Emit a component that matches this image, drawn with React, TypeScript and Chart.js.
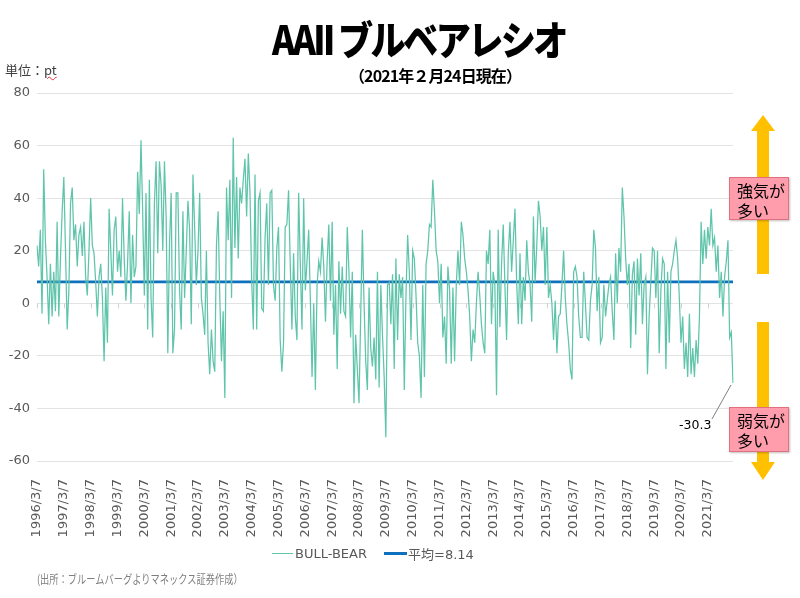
import React, { useEffect, useRef } from 'react';
import { Chart, registerables } from 'chart.js';

Chart.register(...registerables);

// ---- data (approx. weekly AAII bull-bear spread, sampled 16 per year) ----
const PER_YEAR = 16;

const bb1996_1999 = [
  22, 14, 28, -4, 51, 24, 10, -8, 15, -5, 12, -3, 31, -5, 17, 35,
  48, 20, -10, 5, 38, 44, 24, 30, 14, 26, 29, 18, 31, 10, 3, 20,
  40, 22, 19, 8, -5, 10, 15, 2, -22, 6, -15, 36, 20, 3, 28, 33,
  12, 20, 10, 40, 17, 1, 15, 35, 0, 26, 10, 14, 50, 34, 62, 35,
];
const bb2000_2003 = [
  3, 42, -10, 47, 2, -13, 38, 54, 19, 54, 45, 20, 54, 33, -19, 22,
  42, -19, -10, 42, 42, 5, -10, 35, 2, 20, 39, 28, -8, 49, 29, 7,
  20, 42, 2, -4, -12, 20, -15, -27, -10, -22, -26, 22, 35, 2, -22, -3,
  -36, 44, 24, 47, 2, 63, 21, 48, 17, 44, 38, 47, 55, 33, 57, 42,
];
const bb2004_2007 = [
  9, -10, 49, -10, 39, 42, -2, -3, 25, 38, 7, 42, 43, 7, 1, 21,
  29, -14, -26, -15, 29, 30, 43, 15, -10, 19, -5, -14, 42, 15, -10, 40,
  5, 16, 28, 1, -28, 0, -33, 7, 16, 12, 25, 14, -7, 16, 30, 1,
  31, -12, 7, -25, 16, -4, 14, -3, -5, 29, 12, -13, 12, -38, -12, -25,
];
const bb2008_2011 = [
  -38, -5, 28, 0, -22, -33, 6, -17, -24, -13, -29, 12, -32, 7, -12, -28,
  -51, 7, 8, -8, 11, -25, 17, -14, 11, 2, 10, -33, 3, 26, 12, -14,
  20, 17, 3, -15, -20, -36, 7, -28, 15, 20, 30, 29, 47, 35, 20, 16,
  0, 15, -13, -5, -23, 14, 5, -23, 6, -22, 7, 20, 7, 31, 26, 17,
];
const bb2012_2015 = [
  12, 5, -5, -22, -10, -15, 0, 12, 3, -8, -15, -19, 20, 15, 28, -8,
  12, 7, -35, 28, -9, 15, 30, 7, -14, 19, 31, 12, 24, 36, 8, -8,
  19, -8, 10, 1, 24, 12, 7, -7, 33, 8, 22, 39, 33, 20, 29, 7,
  29, 2, 7, 0, -14, 1, -19, -5, -4, 7, 20, 2, -8, -15, -25, -29,
];
const bb2016_2019 = [
  12, 14, 10, -5, -13, -13, 12, 0, -13, -14, 1, 7, 28, 21, -3, 10,
  -15, -13, 7, -5, 1, 7, 10, -3, -14, 19, 0, 21, 12, 44, 33, 17,
  7, 15, -17, 11, 16, -12, 17, 3, 19, -8, 7, 10, -27, -5, 8, 21,
  20, 2, 20, -19, 5, 17, 15, -25, 12, -15, 12, 15, 20, 24, 17, 2,
];
const bb2020_2021 = [
  -15, -5, -25, -15, -28, -4, -27, -17, -28, -14, -23, -5, 31, 15, 28, 17,
  29, 22, 36, 22, 25, 12, 22, 2, 12, -5, 10, 16, 24, -13, -11, -30.3,
];

const yearLabels = [
  '1996/3/7', '1997/3/7', '1998/3/7', '1999/3/7', '2000/3/7', '2001/3/7',
  '2002/3/7', '2003/3/7', '2004/3/7', '2005/3/7', '2006/3/7', '2007/3/7',
  '2008/3/7', '2009/3/7', '2010/3/7', '2011/3/7', '2012/3/7', '2013/3/7',
  '2014/3/7', '2015/3/7', '2016/3/7', '2017/3/7', '2018/3/7', '2019/3/7',
  '2020/3/7', '2021/3/7',
];

const avgValue = 8.14;
const yTicks = [80, 60, 40, 20, 0, -20, -40, -60];

const TEAL = '#5ec4aa';
const BLUE = '#0f70bd';
const GRAY = '#595959';

export default function App() {
  const ref = useRef<HTMLCanvasElement>(null);

  useEffect(() => {
    const bullBear = [
      ...bb1996_1999, ...bb2000_2003, ...bb2004_2007, ...bb2008_2011,
      ...bb2012_2015, ...bb2016_2019, ...bb2020_2021,
    ];
    const labels = bullBear.map((_, i) =>
      i % PER_YEAR === 0 && yearLabels[i / PER_YEAR] ? yearLabels[i / PER_YEAR] : ''
    );
    const avgLine = bullBear.map(() => avgValue);

    const yearTicksPlugin = {
      id: 'yearTicks',
      beforeDatasetsDraw(chart: any) {
        const { ctx, scales } = chart;
        const y0 = scales.y.getPixelForValue(0);
        ctx.save();
        ctx.strokeStyle = '#d0d0d0';
        ctx.lineWidth = 1;
        ctx.beginPath();
        yearLabels.forEach((_, k) => {
          const px = Math.round(scales.x.getPixelForValue(k * PER_YEAR)) + 0.5;
          ctx.moveTo(px, y0);
          ctx.lineTo(px, y0 + 5);
        });
        ctx.stroke();
        ctx.restore();
      },
    };

    const chart = new Chart(ref.current as HTMLCanvasElement, {
      type: 'line',
      data: {
        labels,
        datasets: [
          {
            label: 'BULL-BEAR',
            data: bullBear,
            borderColor: TEAL,
            borderWidth: 1.25,
            pointRadius: 0,
            tension: 0,
          },
          {
            label: '平均=8.14',
            data: avgLine,
            borderColor: BLUE,
            borderWidth: 2.6,
            pointRadius: 0,
          },
        ],
      },
      options: {
        responsive: false,
        animation: false,
        events: [],
        layout: { padding: { top: 93, right: 67, bottom: 57, left: 0 } },
        plugins: {
          legend: { display: false },
          title: { display: false },
          tooltip: { enabled: false },
        },
        scales: {
          x: {
            type: 'category',
            grid: { display: false },
            border: { display: false },
            afterFit: (s: any) => {
              s.height = 80;
            },
            ticks: {
              autoSkip: false,
              maxRotation: 90,
              minRotation: 90,
              padding: 10,
              color: GRAY,
              font: { family: '"DejaVu Sans", Verdana, sans-serif', size: 13 },
            },
          },
          y: {
            min: -60,
            max: 80,
            afterFit: (s: any) => {
              s.width = 37;
            },
            afterBuildTicks: (s: any) => {
              s.ticks = yTicks.map((v) => ({ value: v }));
            },
            grid: { color: '#e3e3e3', lineWidth: 1, drawTicks: false },
            border: { display: false },
            ticks: {
              padding: 7,
              color: GRAY,
              font: { family: '"DejaVu Sans", Verdana, sans-serif', size: 13 },
            },
          },
        },
      },
      plugins: [yearTicksPlugin],
    } as any);
    return () => chart.destroy();
  }, []);

  const jp = '"Noto Sans CJK JP", "Noto Sans", sans-serif';

  return (
    <div style={{ position: 'absolute', left: 0, top: 0, width: 800, height: 598, background: '#fff', overflow: 'hidden' }}>
      <canvas ref={ref} width={800} height={598} style={{ position: 'absolute', left: 0, top: 0, width: 800, height: 598 }} />

      <div style={{ position: 'absolute', left: 0, top: 12, width: 838, textAlign: 'center', lineHeight: '52px' }}>
        <span style={{ display: 'inline-block', fontFamily: jp, fontWeight: 900, fontSize: 40, letterSpacing: -3, color: '#000', whiteSpace: 'nowrap', transform: 'scaleX(0.88)' }}>
          AAII ブルベアレシオ
        </span>
      </div>
      <div style={{ position: 'absolute', left: 349, top: 65, fontFamily: jp, fontWeight: 700, fontSize: 16, letterSpacing: -0.9, color: '#000', whiteSpace: 'nowrap', lineHeight: '20px' }}>
        （2021年２月24日現在）
      </div>
      <div style={{ position: 'absolute', left: 5, top: 60, fontFamily: jp, fontSize: 13, color: '#404040', whiteSpace: 'nowrap', lineHeight: '20px' }}>
        単位：<span style={{ textDecoration: 'underline wavy #e03030', textDecorationThickness: 1 }}>pt</span>
      </div>

      <svg width={800} height={598} style={{ position: 'absolute', left: 0, top: 0 }}>
        <polygon points="763,115 775,131 769,131 769,274 757,274 757,131 751,131" fill="#FFC000" />
        <polygon points="757,322 769,322 769,462 775,462 763,480 751,462 757,462" fill="#FFC000" />
        <line x1={712} y1={419} x2={731} y2={385} stroke="#7f7f7f" strokeWidth={1} />
      </svg>

      <div style={{ position: 'absolute', left: 729, top: 177, width: 60, height: 43, background: '#ff9dac', border: '1px solid #e0707e', boxShadow: '1px 1px 2px rgba(0,0,0,0.25)', fontFamily: jp, fontSize: 16, lineHeight: '20px', color: '#000', padding: '2px 0 0 7px', boxSizing: 'border-box', whiteSpace: 'nowrap' }}>
        強気が<br />多い
      </div>
      <div style={{ position: 'absolute', left: 729, top: 407, width: 60, height: 45, background: '#ff9dac', border: '1px solid #e0707e', boxShadow: '1px 1px 2px rgba(0,0,0,0.25)', fontFamily: jp, fontSize: 16, lineHeight: '20px', color: '#000', padding: '2px 0 0 7px', boxSizing: 'border-box', whiteSpace: 'nowrap' }}>
        弱気が<br />多い
      </div>
      <div style={{ position: 'absolute', left: 679, top: 416, fontFamily: '"DejaVu Sans", sans-serif', fontSize: 12.5, color: '#000', lineHeight: '18px' }}>
        -30.3
      </div>

      {/* legend */}
      <div style={{ position: 'absolute', left: 272, top: 544, height: 18, display: 'flex', alignItems: 'center', fontFamily: '"DejaVu Sans", sans-serif', fontSize: 13, color: GRAY, whiteSpace: 'nowrap' }}>
        <span style={{ display: 'inline-block', width: 21, height: 0, borderTop: `1.5px solid ${TEAL}`, marginRight: 2 }} />
        <span>BULL-BEAR</span>
        <span style={{ display: 'inline-block', width: 23, height: 0, borderTop: `3px solid ${BLUE}`, marginLeft: 17, marginRight: 1 }} />
        <span style={{ fontFamily: '"DejaVu Sans", "Noto Sans CJK JP", sans-serif' }}>平均=8.14</span>
      </div>

      <div style={{ position: 'absolute', left: 37, top: 570, fontFamily: jp, fontSize: 12, color: '#7f7f7f', whiteSpace: 'nowrap', transform: 'scaleX(0.77)', transformOrigin: 'left top', lineHeight: '18px' }}>
        (出所：ブルームバーグよりマネックス証券作成）
      </div>
    </div>
  );
}
